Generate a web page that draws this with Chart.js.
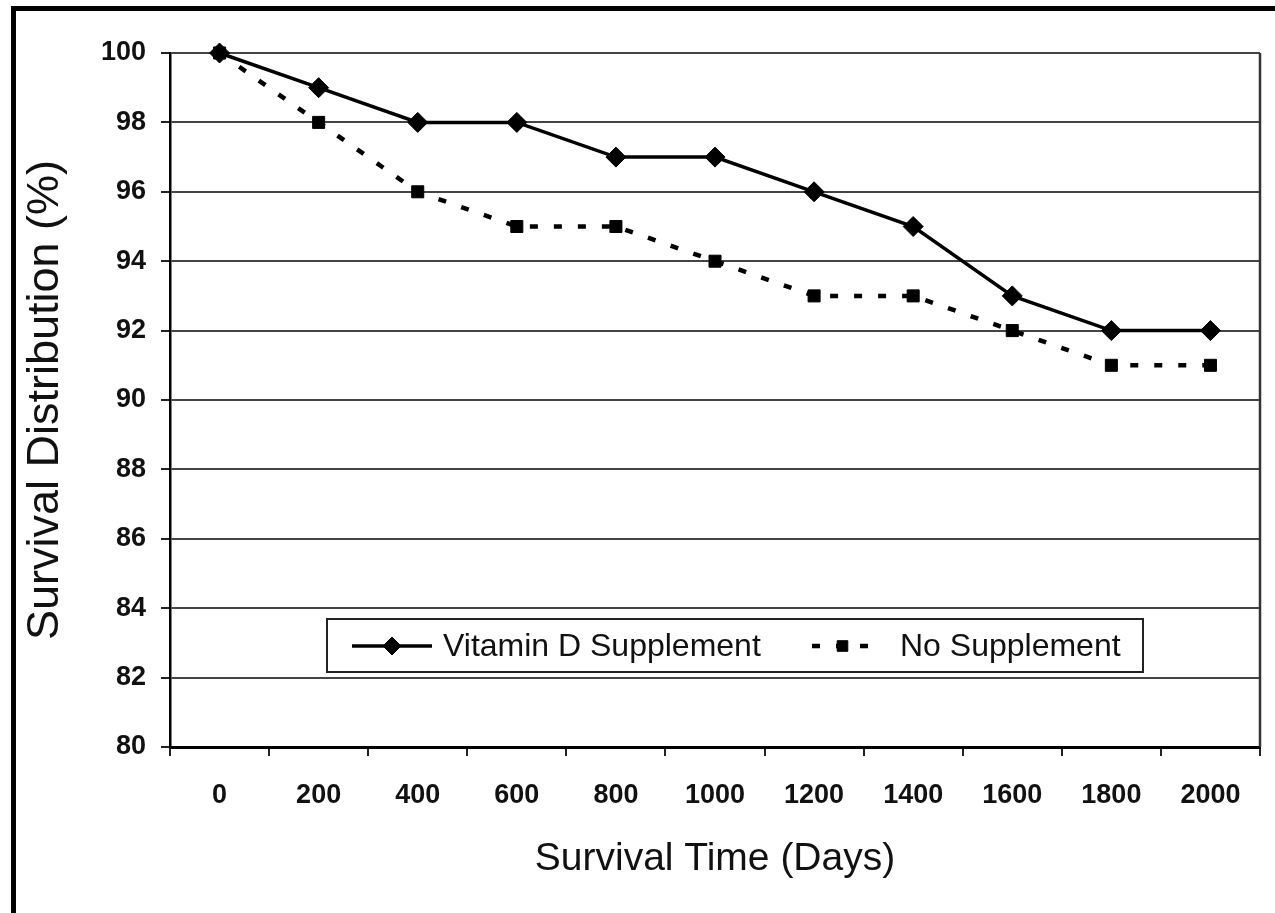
<!DOCTYPE html>
<html>
<head>
<meta charset="utf-8">
<script src="https://cdn.jsdelivr.net/npm/chart.js@4.4.1/dist/chart.umd.min.js"></script>
<style>
    html, body { margin: 0; padding: 0; background: #fff; }
    canvas { display: block; }
</style>
</head>
<body>
<canvas id="survivalChart" width="1275" height="913"></canvas>
<script>
// ==========================================
// DATOS
// ==========================================

const days = ['0', '200', '400', '600', '800', '1000', '1200', '1400', '1600', '1800', '2000'];
const vitaminD = [100, 99, 98, 98, 97, 97, 96, 95, 93, 92, 92];
const noSupplement = [100, 98, 96, 95, 95, 94, 93, 93, 92, 91, 91];
const seriesNames = ['Vitamin D Supplement', 'No Supplement'];

const FONT = "'Liberation Sans', Arial, sans-serif";

// ==========================================
// PLUGINS
// ==========================================

// marco negro (arriba e izquierda) y borde derecho del área de trazado
const framePlugin = {
    id: 'frame',
    beforeDraw(chart) {
        const ctx = chart.ctx;
        ctx.save();
        ctx.fillStyle = '#fff';
        ctx.fillRect(0, 0, chart.width, chart.height);
        ctx.fillStyle = '#000';
        ctx.fillRect(11, 6, chart.width - 11, 5);
        ctx.fillRect(11, 6, 5, chart.height - 6);
        ctx.restore();
    },
    beforeDatasetsDraw(chart) {
        const { ctx, chartArea } = chart;
        ctx.save();
        ctx.strokeStyle = '#333';
        ctx.lineWidth = 2.5;
        ctx.beginPath();
        ctx.moveTo(chartArea.right, chartArea.top);
        ctx.lineTo(chartArea.right, chartArea.bottom);
        ctx.stroke();
        ctx.restore();
    }
};

function drawMarker(ctx, style, x, y, r) {
    ctx.beginPath();
    if (style === 'rectRot') {
        ctx.moveTo(x - r, y);
        ctx.lineTo(x, y - r);
        ctx.lineTo(x + r, y);
        ctx.lineTo(x, y + r);
    } else {
        const s = Math.SQRT1_2 * r;
        ctx.rect(x - s, y - s, 2 * s, 2 * s);
    }
    ctx.closePath();
    ctx.fill();
    ctx.stroke();
}

// leyenda dentro del gráfico, con recuadro
const boxLegendPlugin = {
    id: 'boxLegend',
    afterDatasetsDraw(chart) {
        const { ctx, chartArea } = chart;
        const left = chartArea.left + 157;
        const top = chartArea.top + 566;
        const width = 816;
        const height = 53;
        const midY = top + 27;
        const items = [
            { x: left + 25, len: 80, textX: left + 116 },
            { x: left + 485, len: 61, textX: left + 573 }
        ];

        ctx.save();
        ctx.fillStyle = '#fff';
        ctx.fillRect(left, top, width, height);
        ctx.strokeStyle = '#222';
        ctx.lineWidth = 2;
        ctx.strokeRect(left, top, width, height);

        chart.data.datasets.forEach((ds, i) => {
            const it = items[i];
            ctx.strokeStyle = ds.borderColor;
            ctx.lineWidth = ds.borderWidth;
            ctx.setLineDash(ds.borderDash || []);
            ctx.beginPath();
            ctx.moveTo(it.x, midY);
            ctx.lineTo(it.x + it.len, midY);
            ctx.stroke();
            ctx.setLineDash([]);
            ctx.fillStyle = ds.pointBackgroundColor;
            ctx.strokeStyle = ds.pointBorderColor;
            ctx.lineWidth = 1;
            drawMarker(ctx, ds.pointStyle, it.x + it.len / 2, midY, ds.pointRadius - 1);

            ctx.fillStyle = '#111';
            ctx.font = '32px ' + FONT;
            ctx.textBaseline = 'middle';
            ctx.textAlign = 'left';
            ctx.fillText(ds.label, it.textX, midY + 1);
        });
        ctx.restore();
    }
};

// ==========================================
// GRÁFICO
// ==========================================

function initChart() {
    const ctx = document.getElementById('survivalChart').getContext('2d');
    return new Chart(ctx, {
        type: 'line',
        data: {
            labels: days,
            datasets: [{
                label: seriesNames[0],
                data: vitaminD,
                borderColor: '#000',
                borderWidth: 3.5,
                tension: 0,
                clip: false,
                pointStyle: 'rectRot',
                pointRadius: 10,
                pointBackgroundColor: '#000',
                pointBorderColor: '#000',
                pointBorderWidth: 1
            }, {
                label: seriesNames[1],
                data: noSupplement,
                borderColor: '#000',
                borderWidth: 4.5,
                borderDash: [8, 16],
                tension: 0,
                clip: false,
                pointStyle: 'rect',
                pointRadius: 8.5,
                pointBackgroundColor: '#000',
                pointBorderColor: '#000',
                pointBorderWidth: 1
            }]
        },
        options: {
            responsive: false,
            animation: false,
            layout: {
                padding: { top: 53, right: 15, left: 0, bottom: 0 }
            },
            plugins: {
                legend: { display: false },
                tooltip: { enabled: false }
            },
            scales: {
                x: {
                    offset: true,
                    afterFit: (scale) => { scale.height = 166; },
                    grid: {
                        offset: true,
                        drawOnChartArea: false,
                        tickLength: 9,
                        tickColor: '#222',
                        lineWidth: 2
                    },
                    border: { color: '#000', width: 3 },
                    ticks: {
                        color: '#111',
                        padding: 23,
                        maxRotation: 0,
                        font: { family: FONT, size: 27, weight: 'bold' }
                    },
                    title: {
                        display: true,
                        text: 'Survival Time (Days)',
                        color: '#111',
                        padding: { top: 0, bottom: 30 },
                        font: { family: FONT, size: 39 }
                    }
                },
                y: {
                    min: 80,
                    max: 100,
                    afterFit: (scale) => { scale.width = 170; },
                    grid: {
                        color: '#444',
                        lineWidth: 2,
                        tickLength: 9,
                        tickColor: '#222'
                    },
                    border: { color: '#000', width: 2.5 },
                    ticks: {
                        stepSize: 2,
                        color: '#111',
                        padding: 15,
                        font: { family: FONT, size: 27, weight: 'bold' }
                    },
                    title: {
                        display: true,
                        text: 'Survival Distribution (%)',
                        color: '#111',
                        padding: { top: 19, bottom: 0 },
                        font: { family: FONT, size: 45 }
                    }
                }
            }
        },
        plugins: [framePlugin, boxLegendPlugin]
    });
}

initChart();
</script>
</body>
</html>
